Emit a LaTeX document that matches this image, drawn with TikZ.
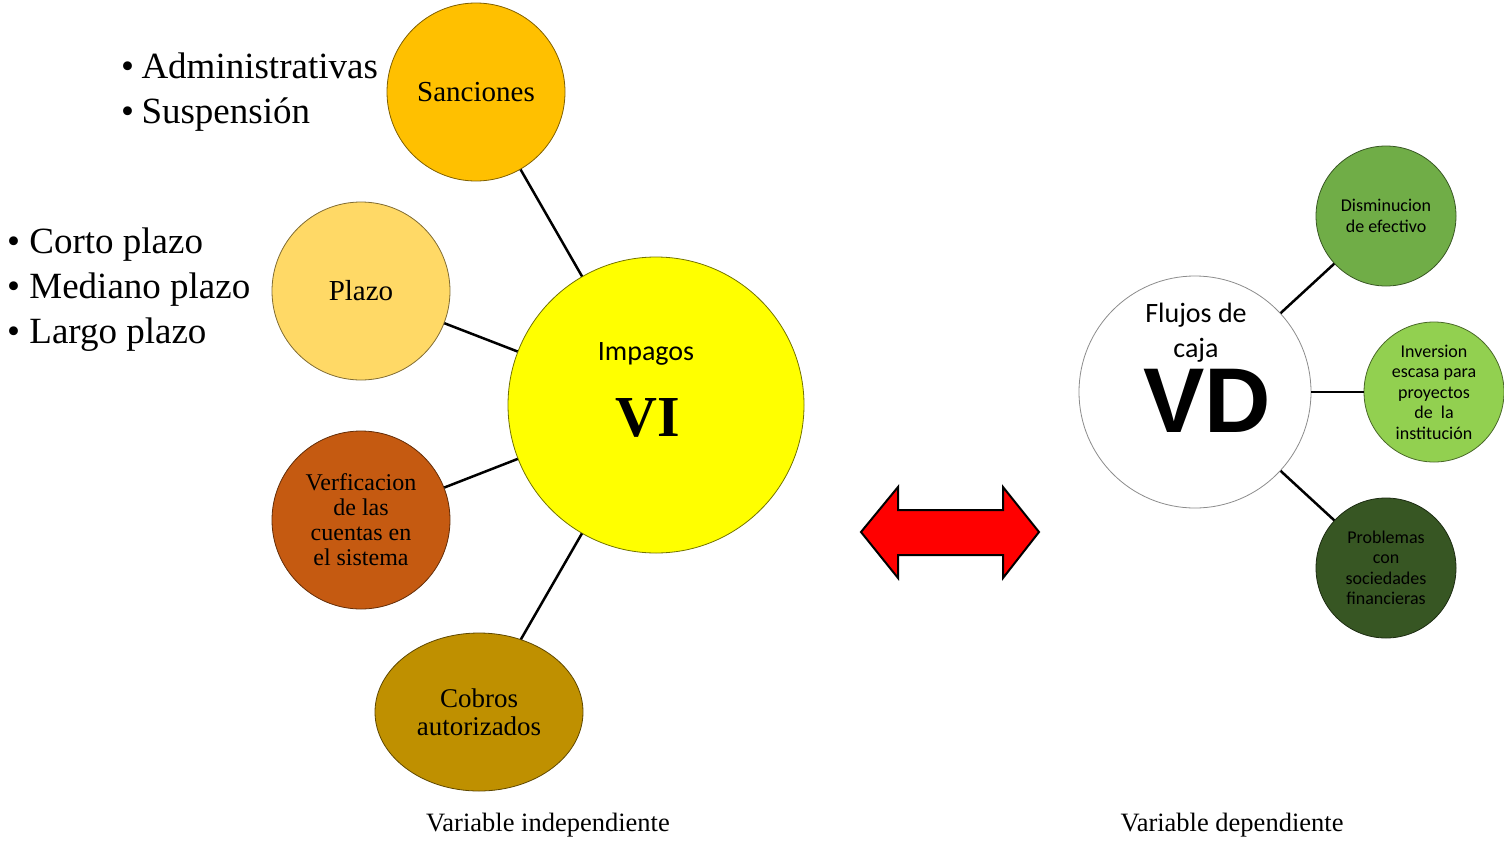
\documentclass[tikz,border=0pt]{standalone}
\usepackage{fontspec}
\setmainfont{Liberation Serif}
\newfontfamily\calibri{Carlito}
\newfontfamily\arialfont{Liberation Sans}
\usetikzlibrary{positioning}
\usetikzlibrary{shapes.geometric}
\definecolor{sancionesfill}{HTML}{FFC000}
\definecolor{plazofill}{HTML}{FFD966}
\definecolor{verifill}{HTML}{C55A11}
\definecolor{cobrosfill}{HTML}{BF9000}
\definecolor{impagosfill}{HTML}{FFFF00}
\definecolor{disminfill}{HTML}{70AD47}
\definecolor{inverfill}{HTML}{92D050}
\definecolor{problemfill}{HTML}{375623}

\begin{document}
\begin{tikzpicture}[
		x=1pt,y=-1pt,
		every node/.append style={
			inner sep=0pt,
			align=center,
		},
		bubble/.style={circle,minimum size=178pt,line width=0.8pt},
		greenbubble/.style={circle,minimum size=140pt,line width=0.8pt,
			font=\calibri\fontsize{18}{20.5}\selectfont},
		link/.style={line width=2.5pt},
		bullets/.style={anchor=west,align=left,font=\fontsize{37}{45}\selectfont},
		caption/.style={font=\fontsize{26.5}{30}\selectfont},
	]
	\useasboundingbox (0,0) rectangle (1504,841);
	% left side of the picture
	\node[circle,minimum size=296pt,fill=impagosfill,draw=impagosfill!45!black,line width=0.8pt] (impagos) at (656,405) {};
	\node[font=\calibri\fontsize{28}{34}\selectfont] (impagostxt) at (646,354) {Impagos};
	\node[font=\bfseries\fontsize{58}{60}\selectfont] (vi) at (648,418) {VI};
	\node[bubble,fill=sancionesfill,draw=sancionesfill!50!black,font=\fontsize{29}{32}\selectfont] (sanciones) at (476,92) {Sanciones};
	\node[bubble,fill=plazofill,draw=plazofill!50!black,font=\fontsize{29}{32}\selectfont] (plazo) at (361,291) {Plazo};
	\node[bubble,fill=verifill,draw=verifill!50!black,font=\fontsize{24}{25}\selectfont] (verificacion) at (361,520) {Verficacion\\de las\\cuentas en\\el sistema};
	\node[ellipse,minimum width=208pt,minimum height=158pt,line width=0.8pt,fill=cobrosfill,draw=cobrosfill!50!black,font=\fontsize{27}{28}\selectfont] (cobros) at (479,712) {Cobros\\autorizados};
	\node[bullets] (sancitems) at (121,92) {•\hspace{0.2em}Administrativas\\•\hspace{0.2em}Suspensión};
	\node[bullets] (plazoitems) at (7,290) {• Corto plazo\\• Mediano plazo\\• Largo plazo};
	\node[caption] (vicaption) at (548,825) {Variable independiente};
	% right side of the picture
	\node[circle,minimum size=232pt,fill=white,draw=black!45,line width=0.8pt] (vd) at (1195,392) {};
	\node[font=\calibri\fontsize{28}{35}\selectfont] (flujos) at (1196,333) {Flujos de\\caja};
	\node[font=\arialfont\bfseries\fontsize{92}{92}\selectfont] (vdtxt) at (1207,401) {VD};
	\node[greenbubble,fill=disminfill,draw=disminfill!50!black] (disminucion) at (1386,216) {Disminucion\\de efectivo};
	\node[greenbubble,fill=inverfill,draw=inverfill!50!black] (inversion) at (1434,392) {Inversion\\escasa para\\proyectos\\de \ la\\institución};
	\node[greenbubble,fill=problemfill,draw=problemfill!50!black] (problemas) at (1386,568) {Problemas\\con\\sociedades\\financieras};
	\node[caption] (vdcaption) at (1232,825) {Variable dependiente};
	% draw the connection lines
	\draw[link] (sanciones) -- (impagos);
	\draw[link] (plazo) -- (impagos);
	\draw[link] (verificacion) -- (impagos);
	\draw[link] (cobros) -- (impagos);
	\draw[link] (vd) -- (disminucion);
	\draw[link] (vd) -- (inversion);
	\draw[link] (vd) -- (problemas);
	% the double arrow in the middle
	\draw[fill=red,line width=2pt,line join=miter] (861,532) -- (898,487) -- (898,510) -- (1003,510) -- (1003,487)
		-- (1039,532) -- (1003,578) -- (1003,555) -- (898,555) -- (898,578) -- cycle;
\end{tikzpicture}
\end{document}
